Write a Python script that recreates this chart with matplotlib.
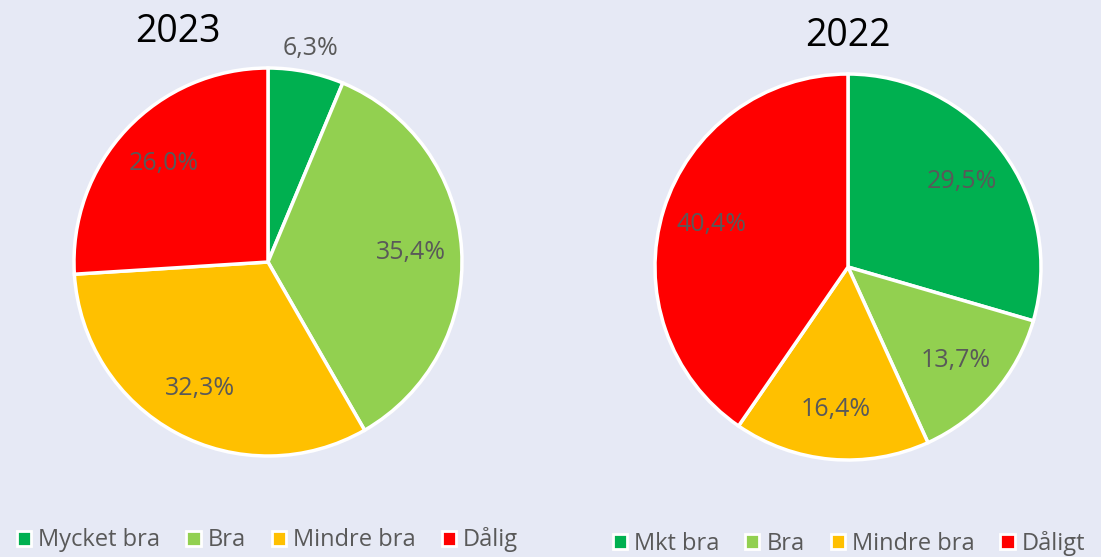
import matplotlib.pyplot as plt
from matplotlib.patches import Patch
import numpy as np

# Datos
etiquetas_2023 = ["Mycket bra", "Bra", "Mindre bra", "Dålig"]
valores_2023 = [6.3, 35.4, 32.3, 26.0]
etiquetas_2022 = ["Mkt bra", "Bra", "Mindre bra", "Dåligt"]
valores_2022 = [29.5, 13.7, 16.4, 40.4]

colores = ["#00B050", "#92D050", "#FFC000", "#FF0000"]
FONDO = "#E6E9F5"
GRIS = "#595959"

plt.rcParams['font.family'] = ['Open Sans', 'DejaVu Sans']

fig = plt.figure(figsize=(11.01, 5.57), dpi=100, facecolor=FONDO)


def dibujar_torta(rect, valores, etiquetas, titulo, pos_titulo, pos_leyenda, fuera=()):
    ax = fig.add_axes(rect)
    ax.set_facecolor(FONDO)
    wedges, _ = ax.pie(valores, colors=colores, startangle=90, counterclock=False,
                       wedgeprops=dict(edgecolor="white", linewidth=2.5))
    ax.set_xlim(-1, 1)
    ax.set_ylim(-1, 1)
    ax.set_aspect("equal")
    ax.axis("off")

    # Etiquetas de porcentaje con coma decimal
    for i, (w, v) in enumerate(zip(wedges, valores)):
        ang = np.deg2rad((w.theta1 + w.theta2) / 2)
        r = 1.12 if i in fuera else 0.74
        ax.text(r * np.cos(ang), r * np.sin(ang), f"{v:.1f}%".replace(".", ","),
                ha="center", va="center", fontsize=18, color=GRIS)

    fig.text(pos_titulo[0], pos_titulo[1], titulo, ha="center", va="center",
             fontsize=27, color="black")

    handles = [Patch(facecolor=c, edgecolor="white", linewidth=2) for c in colores]
    fig.legend(handles, etiquetas, loc="center", bbox_to_anchor=pos_leyenda, ncol=4,
               frameon=False, fontsize=17, handlelength=0.6, handleheight=0.6,
               handletextpad=0.3, columnspacing=1.1, labelcolor=GRIS)


dibujar_torta([0.0672, 0.1813, 0.3524, 0.6966], valores_2023, etiquetas_2023, "2023",
              (0.1617, 1 - 32 / 557), (0.243, 1 - 540 / 557), fuera=(0,))
dibujar_torta([0.5949, 0.1741, 0.3506, 0.693], valores_2022, etiquetas_2022, "2022",
              (0.770, 1 - 36 / 557), (0.771, 1 - 543 / 557))

fig.savefig("out.png", dpi=100, facecolor=FONDO)
